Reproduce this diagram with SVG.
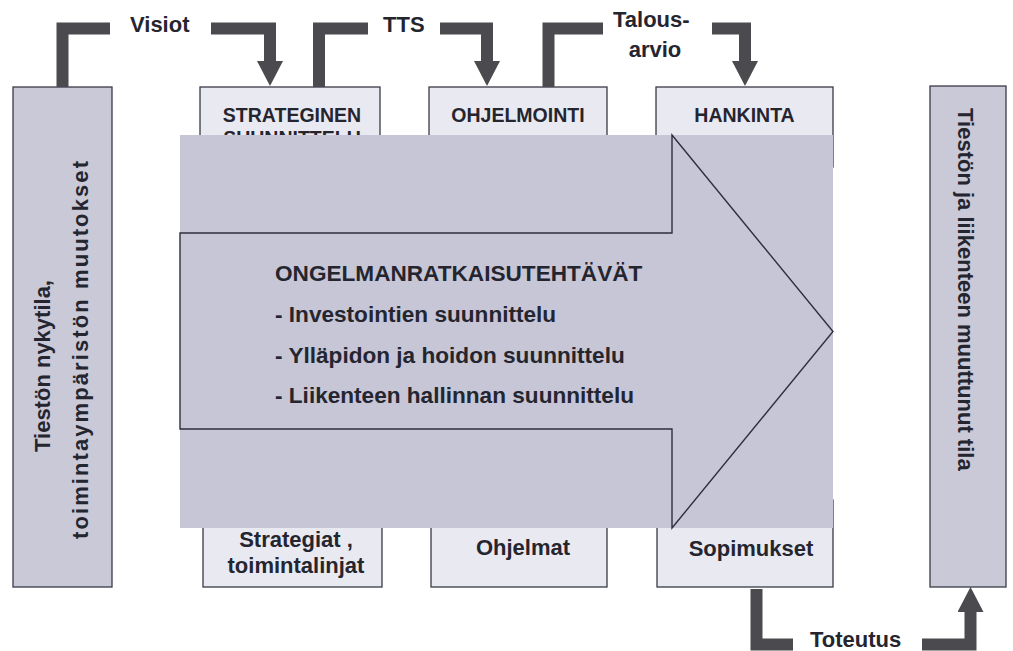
<svg xmlns="http://www.w3.org/2000/svg" width="1013" height="651" viewBox="0 0 1013 651">
  <defs>
    <marker id="head" markerUnits="userSpaceOnUse" markerWidth="26" markerHeight="26" viewBox="0 0 26 26" refX="0" refY="13" orient="auto">
      <path d="M0,0 L25,13 L0,26 Z" fill="#4b4b4f"/>
    </marker>
    <style>
      .side { fill: #c9c9d8; stroke: #3a3a48; stroke-width: 1.3; }
      .box { fill: #e9e9f1; stroke: #3a3a48; stroke-width: 1.3; }
      .band { fill: #c6c6d6; }
      .outline { fill: none; stroke: #2e2e3c; stroke-width: 1.4; }
      .conn { fill: none; stroke: #4b4b4f; stroke-width: 12; stroke-linejoin: miter; stroke-linecap: butt; }
      .arrow { marker-end: url(#head); }
      text { font-family: "Liberation Sans", Arial, sans-serif; font-weight: bold; fill: #25252f; }
      .lbl { font-size: 22px; }
      .cap { font-size: 19.5px; text-anchor: middle; }
      .out { font-size: 22px; text-anchor: middle; }
      .main { font-size: 22.6px; }
      .vert { font-size: 22px; }
    </style>
  </defs>

  <!-- left input column -->
  <g id="node-current-state">
    <rect class="side" x="13" y="87" width="99" height="500"/>
    <text class="vert" transform="translate(50,452) rotate(-90)">Tiestön nykytila,</text>
    <text class="vert" transform="translate(88,539) rotate(-90)" font-size="24" textLength="378" lengthAdjust="spacing">toimintaympäristön muutokset</text>
  </g>

  <!-- right result column -->
  <g id="node-changed-state">
    <rect class="side" x="930" y="86" width="76" height="501"/>
    <text class="vert" transform="translate(958,108) rotate(90)" font-size="21.5">Tiestön ja liikenteen muuttunut tila</text>
  </g>

  <!-- phase boxes, top row -->
  <g id="node-strategic">
    <rect class="box" x="200" y="87" width="180" height="80"/>
    <text class="cap" x="292" y="122">STRATEGINEN</text>
    <text class="cap" x="292" y="145">SUUNNITTELU</text>
  </g>
  <g id="node-programming">
    <rect class="box" x="429" y="87" width="178" height="80"/>
    <text class="cap" x="518" y="122">OHJELMOINTI</text>
  </g>
  <g id="node-procurement">
    <rect class="box" x="656" y="87" width="177" height="80"/>
    <text class="cap" x="744.5" y="122">HANKINTA</text>
  </g>

  <!-- output boxes, bottom row -->
  <g id="node-strategies">
    <rect class="box" x="203" y="500" width="179" height="87"/>
    <text class="out" x="296" y="547">Strategiat ,</text>
    <text class="out" x="296" y="573">toimintalinjat</text>
  </g>
  <g id="node-programmes">
    <rect class="box" x="431" y="500" width="176" height="87"/>
    <text class="out" x="523" y="555">Ohjelmat</text>
  </g>
  <g id="node-contracts">
    <rect class="box" x="657" y="500" width="176" height="87"/>
    <text class="out" x="751" y="556">Sopimukset</text>
  </g>

  <!-- large process arrow laid over the boxes -->
  <g id="node-problem-solving">
    <rect class="band" x="180" y="135" width="653" height="393"/>
    <path class="outline" d="M180,233 H672 V135 L833,331.5 L672,528 V429 H180 Z"/>
    <text class="main" x="275" y="281">ONGELMANRATKAISUTEHTÄVÄT</text>
    <text class="main" x="275" y="322">- Investointien suunnittelu</text>
    <text class="main" x="275" y="363">- Ylläpidon ja hoidon suunnittelu</text>
    <text class="main" x="275" y="403">- Liikenteen hallinnan suunnittelu</text>
  </g>

  <!-- flow connectors -->
  <g id="connectors">
    <path class="conn" d="M62.5,87 V28.5 H110"/>
    <path class="conn arrow" d="M211,28.5 H270 V61"/>
    <path class="conn" d="M319,87 V28.5 H368"/>
    <path class="conn arrow" d="M440,28.5 H487 V61"/>
    <path class="conn" d="M548.5,87 V28.5 H603"/>
    <path class="conn arrow" d="M712,28.5 H745 V61"/>
    <path class="conn" d="M756.5,589 V644.5 H793"/>
    <path class="conn arrow" d="M922,644.5 H970.5 V612"/>
  </g>

  <!-- connector labels -->
  <g id="labels">
    <text class="lbl" x="130" y="32">Visiot</text>
    <text class="lbl" x="383" y="32">TTS</text>
    <text class="lbl" x="613" y="27">Talous-</text>
    <text class="lbl" x="655" y="57" text-anchor="middle">arvio</text>
    <text class="lbl" x="810" y="647">Toteutus</text>
  </g>
</svg>
